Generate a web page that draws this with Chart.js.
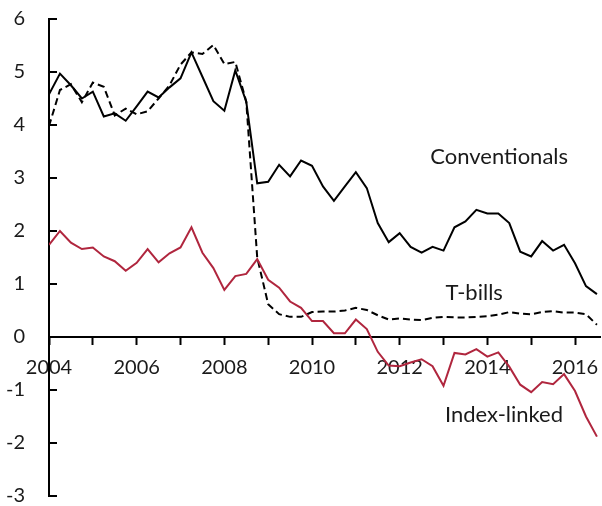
<!DOCTYPE html>
<html>
<head>
<meta charset="utf-8">
<script src="https://cdn.jsdelivr.net/npm/chart.js@4.4.1/dist/chart.umd.min.js"></script>
<style>
  html, body { margin: 0; padding: 0; background: #ffffff; }
  #wrap { width: 602px; height: 506px; }
</style>
</head>
<body>
<div id="wrap"><canvas id="c" width="602" height="506"></canvas></div>
<script>
// Quarterly observations (decimal year)
const quarterDates = [
  2004.00, 2004.25, 2004.50, 2004.75, 2005.00, 2005.25, 2005.50, 2005.75,
  2006.00, 2006.25, 2006.50, 2006.75, 2007.00, 2007.25, 2007.50, 2007.75,
  2008.00, 2008.25, 2008.50, 2008.75, 2009.00, 2009.25, 2009.50, 2009.75,
  2010.00, 2010.25, 2010.50, 2010.75, 2011.00, 2011.25, 2011.50, 2011.75,
  2012.00, 2012.25, 2012.50, 2012.75, 2013.00, 2013.25, 2013.50, 2013.75,
  2014.00, 2014.25, 2014.50, 2014.75, 2015.00, 2015.25, 2015.50, 2015.75,
  2016.00, 2016.25, 2016.50
];

const conventionals = [
  4.58, 4.97, 4.75, 4.50, 4.63, 4.16, 4.22, 4.08, 4.35, 4.63,
  4.52, 4.71, 4.88, 5.37, 4.91, 4.45, 4.27, 5.03, 4.44, 2.90,
  2.93, 3.25, 3.03, 3.33, 3.23, 2.84, 2.57, 2.84, 3.11, 2.81,
  2.15, 1.79, 1.96, 1.70, 1.59, 1.70, 1.63, 2.07, 2.18, 2.40,
  2.33, 2.33, 2.15, 1.61, 1.52, 1.81, 1.63, 1.74, 1.39, 0.96,
  0.81
];

const tBills = [
  3.98, 4.66, 4.77, 4.43, 4.80, 4.72, 4.18, 4.31, 4.20, 4.26,
  4.50, 4.75, 5.14, 5.37, 5.34, 5.51, 5.15, 5.19, 4.44, 1.50,
  0.62, 0.43, 0.38, 0.38, 0.47, 0.48, 0.48, 0.50, 0.55, 0.51,
  0.41, 0.33, 0.35, 0.33, 0.32, 0.36, 0.38, 0.37, 0.37, 0.38,
  0.39, 0.42, 0.47, 0.44, 0.43, 0.47, 0.49, 0.46, 0.46, 0.43,
  0.23
];

const indexLinked = [
  1.74, 2.00, 1.78, 1.66, 1.69, 1.52, 1.43, 1.25, 1.40, 1.66,
  1.41, 1.58, 1.69, 2.07, 1.59, 1.30, 0.89, 1.15, 1.19, 1.47,
  1.08, 0.93, 0.67, 0.55, 0.30, 0.30, 0.07, 0.07, 0.33, 0.15,
  -0.28, -0.54, -0.55, -0.48, -0.42, -0.55, -0.92, -0.30, -0.33, -0.23,
  -0.37, -0.29, -0.56, -0.90, -1.04, -0.85, -0.89, -0.70, -1.02, -1.50,
  -1.88
];

const xTickLabels = ['2004', '2006', '2008', '2010', '2012', '2014', '2016'];
const yTickValues = [-3, -2, -1, 0, 1, 2, 3, 4, 5, 6];

// Series labels and their anchor in data units
const seriesLabels = [
  { text: 'Conventionals', x: 2014.27, y: 3.40 },
  { text: 'T-bills',       x: 2013.70, y: 0.83 },
  { text: 'Index-linked',  x: 2014.38, y: -1.47 }
];

const toPoints = (vals) => vals.map((v, i) => ({ x: quarterDates[i], y: v }));

const FONT = 'Lato, "Open Sans", "DejaVu Sans", sans-serif';
const INK = '#1a1a1a';
const RED = '#b0263e';

const extras = {
  id: 'extras',
  afterDraw(chart) {
    const { ctx, scales: { x, y } } = chart;
    ctx.save();
    // y tick marks pointing into the plot
    ctx.strokeStyle = '#000';
    ctx.lineWidth = 2;
    y.ticks.forEach(t => {
      const py = Math.round(y.getPixelForValue(t.value));
      ctx.beginPath();
      ctx.moveTo(x.left, py);
      ctx.lineTo(x.left + 8, py);
      ctx.stroke();
    });
    // series labels
    ctx.fillStyle = INK;
    ctx.font = '22px ' + FONT;
    ctx.textAlign = 'center';
    ctx.textBaseline = 'middle';
    seriesLabels.forEach(l => {
      ctx.fillText(l.text, x.getPixelForValue(l.x), y.getPixelForValue(l.y));
    });
    ctx.restore();
  }
};

new Chart(document.getElementById('c'), {
  type: 'line',
  data: {
    datasets: [
      {
        label: 'Index-linked',
        data: toPoints(indexLinked),
        borderColor: RED,
        borderWidth: 2,
        pointRadius: 0,
        tension: 0,
        fill: false
      },
      {
        label: 'T-bills',
        data: toPoints(tBills),
        borderColor: '#000',
        borderWidth: 2,
        borderDash: [7, 4],
        pointRadius: 0,
        tension: 0,
        fill: false
      },
      {
        label: 'Conventionals',
        data: toPoints(conventionals),
        borderColor: '#000',
        borderWidth: 2,
        pointRadius: 0,
        tension: 0,
        fill: false
      }
    ]
  },
  options: {
    responsive: false,
    animation: false,
    layout: { padding: { top: 19, bottom: 10, left: 0, right: 2 } },
    plugins: {
      legend: { display: false },
      tooltip: { enabled: false }
    },
    scales: {
      x: {
        type: 'linear',
        position: { y: 0 },
        min: 2004,
        max: 2016.57,
        afterFit: (s) => { s.height = 0; s.paddingLeft = 0; s.paddingRight = 0; },
        border: { display: true, color: '#000', width: 2 },
        grid: {
          display: true,
          drawOnChartArea: false,
          drawTicks: true,
          tickLength: 7,
          tickColor: '#000',
          tickWidth: 2
        },
        ticks: {
          stepSize: 1,
          includeBounds: false,
          autoSkip: false,
          maxRotation: 0,
          padding: 12,
          color: INK,
          font: { family: FONT, size: 20 },
          callback: (v) => xTickLabels.includes(String(v)) ? String(v) : ''
        }
      },
      y: {
        type: 'linear',
        position: 'left',
        min: -3,
        max: 6,
        afterFit: (s) => { s.width = 49; s.paddingTop = 0; s.paddingBottom = 0; },
        border: { display: true, color: '#000', width: 2 },
        grid: { display: false, drawTicks: false },
        ticks: {
          stepSize: 1,
          padding: 24,
          color: INK,
          font: { family: FONT, size: 20, lineHeight: 1 },
          callback: (v) => yTickValues.includes(v) ? String(v) : ''
        }
      }
    }
  },
  plugins: [extras]
});
</script>
</body>
</html>
